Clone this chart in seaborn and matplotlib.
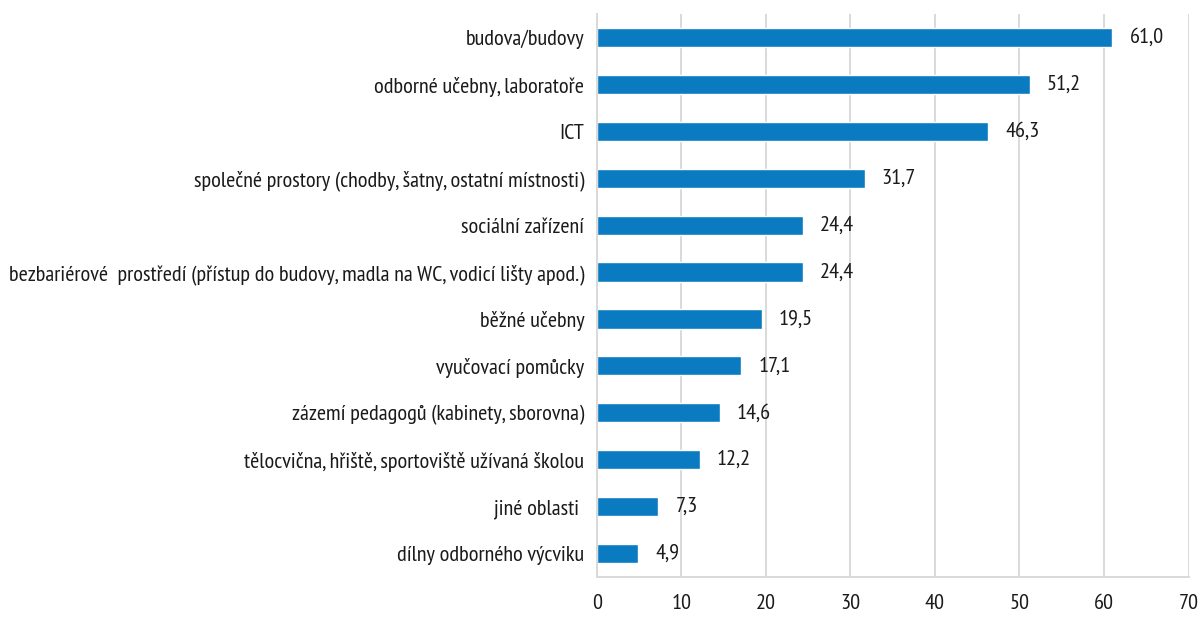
import matplotlib
matplotlib.use('Agg')
import matplotlib.pyplot as plt
import seaborn as sns
import pandas as pd

categories = [
    'budova/budovy',
    'odborné učebny, laboratoře',
    'ICT',
    'společné prostory (chodby, šatny, ostatní místnosti)',
    'sociální zařízení',
    'bezbariérové  prostředí (přístup do budovy, madla na WC, vodicí lišty apod.)',
    'běžné učebny',
    'vyučovací pomůcky',
    'zázemí pedagogů (kabinety, sborovna)',
    'tělocvična, hřiště, sportoviště užívaná školou',
    'jiné oblasti ',
    'dílny odborného výcviku',
]
values = [61.0, 51.2, 46.3, 31.7, 24.4, 24.4, 19.5, 17.1, 14.6, 12.2, 7.3, 4.9]
xticks = [0, 10, 20, 30, 40, 50, 60, 70]

BAR = '#0a7bc1'
GRID = '#d9d9d9'
TXT = '#1a1a1a'

sns.set_theme(style='white')
plt.rcParams['font.family'] = ['PT Sans Narrow', 'DejaVu Sans']

df = pd.DataFrame({'oblast': categories, 'hodnota': values})

fig = plt.figure(figsize=(12.03, 6.17), dpi=100)
ax = fig.add_axes([0.496, 0.065, 0.492, 0.912])

sns.barplot(data=df, y='oblast', x='hodnota', color=BAR, width=0.41,
            saturation=1, orient='h', ax=ax)

ax.set_xlim(0, 70)
ax.set_xticks(xticks)
ax.set_xticklabels([str(t) for t in xticks], fontsize=16, color=TXT)
ax.tick_params(axis='y', labelsize=16, labelcolor=TXT, length=0, pad=9)
ax.tick_params(axis='x', length=0, pad=12)
ax.set_xlabel('')
ax.set_ylabel('')
ax.grid(axis='x', color=GRID, linewidth=1.4)
ax.set_axisbelow(True)
for s in ['top', 'right']:
    ax.spines[s].set_visible(False)
for s in ['left', 'bottom']:
    ax.spines[s].set_color(GRID)
    ax.spines[s].set_linewidth(1.4)

for p, v in zip(ax.patches, values):
    ax.text(p.get_width() + 2.0, p.get_y() + p.get_height() / 2,
            f'{v:.1f}'.replace('.', ','), va='center', ha='left',
            fontsize=16, color=TXT)

fig.savefig('out.png', dpi=100)
